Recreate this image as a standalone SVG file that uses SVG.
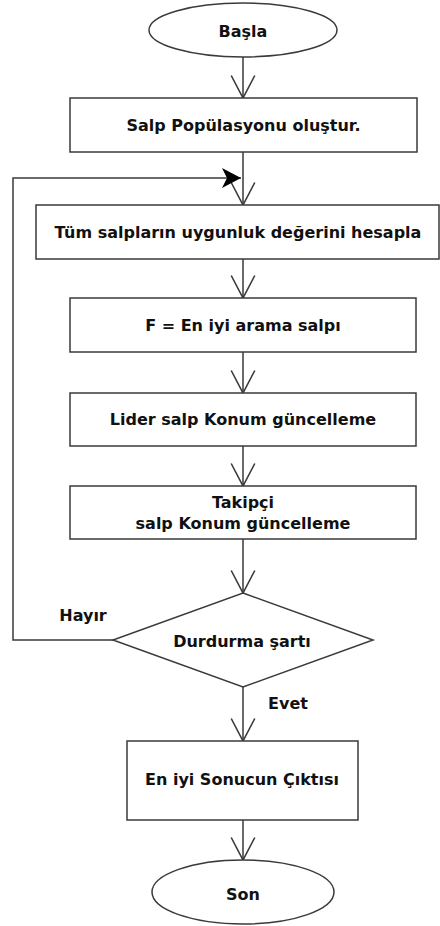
<svg xmlns="http://www.w3.org/2000/svg" width="440" height="926" viewBox="0 0 440 926">
  <style>
    .shape { fill: #ffffff; stroke: #3a3a3a; stroke-width: 1.5; }
    .wire { fill: none; stroke: #3a3a3a; stroke-width: 1.5; }
    .label { font-family: "DejaVu Sans", Verdana, sans-serif; font-weight: bold; font-size: 16px; fill: #111111; text-anchor: middle; }
  </style>
  <defs>
    <!-- open V head used on every downward flow line -->
    <marker id="openHead" markerUnits="userSpaceOnUse" markerWidth="30" markerHeight="30" viewBox="-24 -14 28 28" refX="0" refY="0" orient="auto">
      <path d="M-21,-11 L0,0 L-21,11" fill="none" stroke="#3a3a3a" stroke-width="1.5"/>
    </marker>
    <!-- solid head for the loop-back line -->
    <marker id="solidHead" markerUnits="userSpaceOnUse" markerWidth="24" markerHeight="24" viewBox="-20 -12 22 24" refX="0" refY="0" orient="auto">
      <path d="M-19,-10 L0,0 L-19,10 L-14,0 Z" fill="#000000"/>
    </marker>
  </defs>

  <!-- connectors -->
  <g id="connectors">
    <line class="wire" x1="243" y1="57" x2="243" y2="98" marker-end="url(#openHead)"/>
    <line class="wire" x1="243" y1="152" x2="243" y2="205" marker-end="url(#openHead)"/>
    <line class="wire" x1="243" y1="259" x2="243" y2="298" marker-end="url(#openHead)"/>
    <line class="wire" x1="243" y1="352" x2="243" y2="393" marker-end="url(#openHead)"/>
    <line class="wire" x1="243" y1="446" x2="243" y2="486" marker-end="url(#openHead)"/>
    <line class="wire" x1="243" y1="539" x2="243" y2="593" marker-end="url(#openHead)"/>
    <line class="wire" x1="243" y1="687" x2="243" y2="741" marker-end="url(#openHead)"/>
    <line class="wire" x1="243" y1="820" x2="243" y2="860" marker-end="url(#openHead)"/>
    <polyline class="wire" points="113,640 13,640 13,178 241,178" marker-end="url(#solidHead)"/>
    <text class="label" x="83" y="621" font-size="17">Hayır</text>
    <text class="label" x="288" y="709" font-size="18">Evet</text>
  </g>

  <g id="start">
    <ellipse class="shape" cx="243" cy="30" rx="94" ry="27"/>
    <text class="label" x="243" y="37">Başla</text>
  </g>

  <g id="init">
    <rect class="shape" x="70" y="98" width="347" height="54"/>
    <text class="label" x="243.5" y="131">Salp Popülasyonu oluştur.</text>
  </g>

  <g id="fitness">
    <rect class="shape" x="36" y="205" width="403" height="54"/>
    <text class="label" x="238" y="238" font-size="16.8">Tüm salpların uygunluk değerini hesapla</text>
  </g>

  <g id="best">
    <rect class="shape" x="70" y="298" width="346" height="54"/>
    <text class="label" x="243" y="331">F = En iyi arama salpı</text>
  </g>

  <g id="leader">
    <rect class="shape" x="70" y="393" width="346" height="53"/>
    <text class="label" x="243" y="425">Lider salp Konum güncelleme</text>
  </g>

  <g id="follower">
    <rect class="shape" x="70" y="486" width="346" height="53"/>
    <text class="label" x="243" y="508">Takipçi</text>
    <text class="label" x="243" y="529">salp Konum güncelleme</text>
  </g>

  <g id="stop">
    <polygon class="shape" points="243,593 373,640 243,687 113,640"/>
    <text class="label" x="242" y="647" font-size="15.4">Durdurma şartı</text>
  </g>

  <g id="output">
    <rect class="shape" x="127" y="741" width="231" height="79"/>
    <text class="label" x="242" y="785" font-size="16.8">En iyi Sonucun Çıktısı</text>
  </g>

  <g id="end">
    <ellipse class="shape" cx="243" cy="892" rx="91" ry="32"/>
    <text class="label" x="243" y="900" font-size="17">Son</text>
  </g>
</svg>
